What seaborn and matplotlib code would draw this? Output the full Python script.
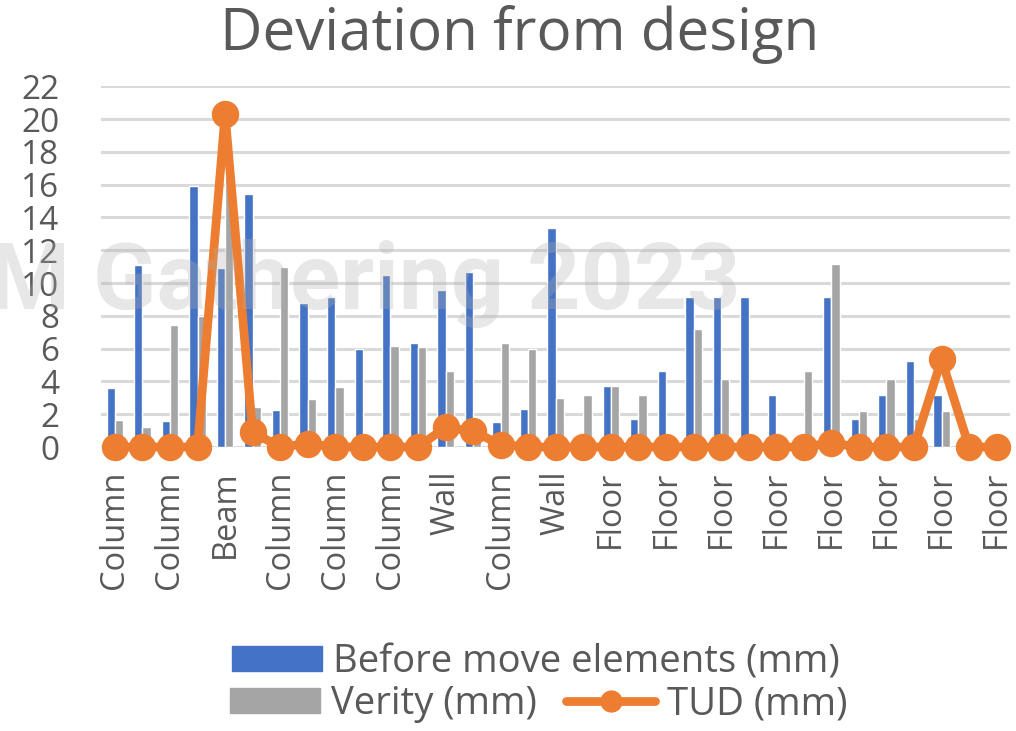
import matplotlib

matplotlib.use("Agg")
import matplotlib.pyplot as plt
import pandas as pd
import seaborn as sns
from matplotlib.lines import Line2D
from matplotlib.patches import Patch

# element types (only every other one is labelled on the axis)
element_types = [
    "Column", "Column", "Column", "Column", "Beam", "Beam", "Column", "Column",
    "Column", "Column", "Column", "Column", "Wall", "Wall", "Column", "Column",
    "Wall", "Floor", "Floor", "Floor", "Floor", "Floor", "Floor", "Floor",
    "Floor", "Floor", "Floor", "Floor", "Floor", "Floor", "Floor", "Floor",
    "Floor",
]
before_move = [
    3.6, 11.1, 1.6, 15.9, 10.9, 15.4, 2.25, 8.8, 9.15, 5.95, 10.5, 6.35, 9.6,
    10.65, 1.55, 2.3, 13.35, 0.0, 3.7, 1.7, 4.65, 9.15, 9.15, 9.15, 3.2, 0.65,
    9.15, 1.7, 3.2, 5.25, 3.2, 1.0, 0.6,
]
verity = [
    1.65, 1.25, 7.45, 8.0, 16.5, 2.45, 11.0, 2.95, 3.65, 0.0, 6.15, 6.1, 4.65,
    0.5, 6.35, 5.95, 3.0, 3.2, 3.7, 3.2, 0.0, 7.2, 4.15, 0.0, 0.0, 4.65, 11.15,
    2.2, 4.15, 1.7, 2.2, 0.5, 0.3,
]
tud = [
    0.0, 0.0, 0.0, 0.0, 20.3, 0.9, 0.0, 0.2, 0.0, 0.0, 0.0, 0.0, 1.2, 0.95,
    0.15, 0.0, 0.0, 0.0, 0.0, 0.0, 0.0, 0.0, 0.0, 0.0, 0.0, 0.0, 0.25, 0.0,
    0.0, 0.0, 5.35, 0.0, 0.0,
]

series_names = ["Before move elements (mm)", "Verity (mm)"]
line_name = "TUD (mm)"
blue, grey, orange = "#4472C4", "#A5A5A5", "#ED7D31"
text_color = "#595959"

ids = [f"E{i:02d}" for i in range(len(element_types))]
bars = pd.concat(
    [
        pd.DataFrame({"element": ids, "value": before_move, "series": series_names[0]}),
        pd.DataFrame({"element": ids, "value": verity, "series": series_names[1]}),
    ]
)
line = pd.DataFrame({"element": ids, "value": tud})

sns.set_style("white")
plt.rcParams["font.family"] = ["Open Sans", "DejaVu Sans"]

fig = plt.figure(figsize=(10.16, 7.31), dpi=100)
ax = fig.add_axes([0.0995, 0.3885, 0.895, 0.4935])

sns.barplot(
    data=bars,
    x="element",
    y="value",
    hue="series",
    order=ids,
    palette=[blue, grey],
    width=0.6,
    saturation=1,
    legend=False,
    ax=ax,
    zorder=2,
)
sns.pointplot(
    data=line,
    x="element",
    y="value",
    order=ids,
    color=orange,
    markers="o",
    markersize=15,
    linewidth=6.3,
    ax=ax,
)
for coll in ax.lines + ax.collections:
    coll.set_clip_on(False)
    coll.set_zorder(4)

ax.set_ylim(0, 22)
ax.set_xlim(-0.5, len(ids) - 0.5)
ax.set_yticks(range(0, 23, 2))
ax.yaxis.grid(True, color="#D9D9D9", linewidth=2.2, zorder=0)
ax.set_axisbelow(True)
sns.despine(ax=ax, left=True, bottom=True, top=True, right=True)
ax.set_xticks(range(0, len(ids), 2))
ax.set_xticklabels(element_types[::2], rotation=90)
ax.tick_params(axis="x", length=0, pad=17, labelsize=23.5, labelcolor=text_color)
ax.tick_params(axis="y", length=0, pad=30, labelsize=24, labelcolor=text_color)
ax.set(xlabel="", ylabel="")

fig.text(
    520 / 1016, 1 - 35 / 731, "Deviation from design",
    ha="center", va="center", fontsize=42, color=text_color,
)

# faint watermark over the plot
fig.text(
    740 / 1016, 1 - 283 / 731, "BIM Gathering 2023",
    ha="right", va="center", fontsize=67, fontweight="bold",
    family=["Roboto", "DejaVu Sans"], color="#B0B0B0", alpha=0.3, zorder=10,
)

legkw = dict(
    frameon=False, fontsize=27.5, labelcolor=text_color, handlelength=2.35,
    handleheight=0.6, handletextpad=0.3, borderpad=0, borderaxespad=0,
)
fig.legend(
    handles=[Patch(color=blue, label=series_names[0])],
    loc="center left", bbox_to_anchor=(232 / 1016, 1 - 662 / 731), **legkw,
)
fig.legend(
    handles=[
        Patch(color=grey, label=series_names[1]),
        Line2D([], [], color=orange, linewidth=6.3, marker="o", markersize=15,
               label=line_name),
    ],
    ncol=2, columnspacing=0.75,
    loc="center left", bbox_to_anchor=(230 / 1016, 1 - 704 / 731), **legkw,
)

fig.savefig("out.png", dpi=100)
